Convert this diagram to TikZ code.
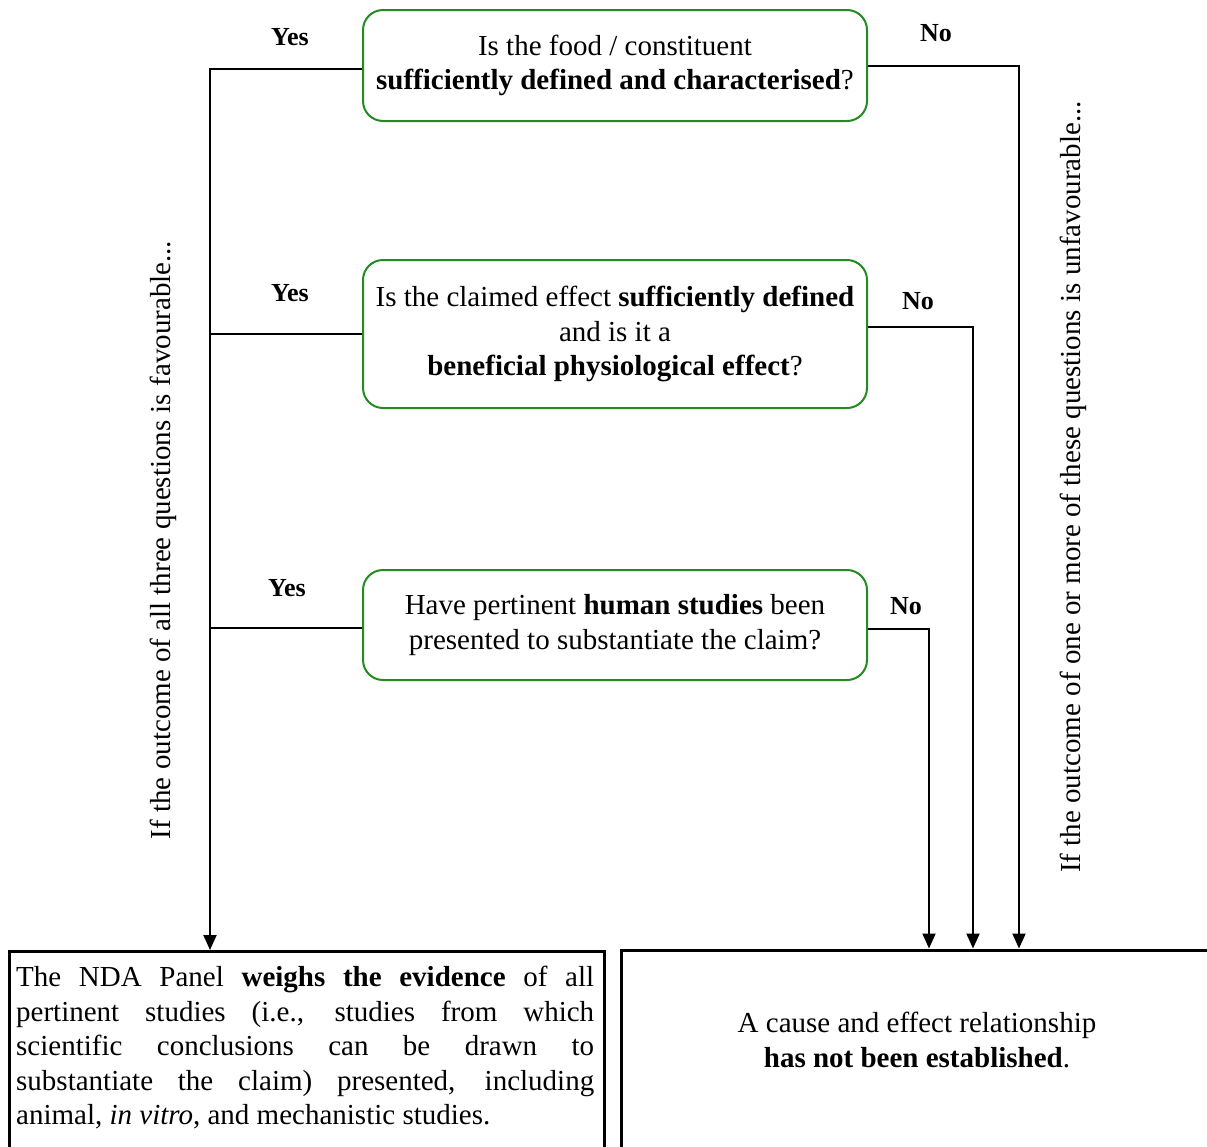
\documentclass[tikz,border=0pt]{standalone}
\usepackage{fontspec}
\setmainfont{Liberation Serif}
\usetikzlibrary{arrows.meta}
\definecolor{qgreen}{RGB}{34,139,34}
\begin{document}
\begin{tikzpicture}[x=1pt,y=-1pt,
  font=\fontsize{29}{34.5}\selectfont,
  qbox/.style={draw=qgreen, line width=2pt, rounded corners=20pt, minimum width=504pt, align=center, inner sep=0pt},
  endbox/.style={draw, line width=3pt, anchor=north west, inner sep=0pt},
  conn/.style={line width=2pt},
  arr/.style={conn, -{Triangle[length=15pt,width=13pt]}},
  lab/.style={font=\fontsize{26}{30}\selectfont\bfseries},
  side/.style={rotate=90}
]
\useasboundingbox (0,0) rectangle (1207,1146);

% question boxes
\node[qbox, minimum height=111pt] (q1) at (615,65.5)
  {Is the food / constituent\\\textbf{sufficiently defined and characterised}?};
\node[qbox, minimum height=148pt] (q2) at (615,334)
  {Is the claimed effect \textbf{sufficiently defined}\\and is it a\\\textbf{beneficial physiological effect}?};
\node[qbox, minimum height=110pt] (q3) at (615,625)
  {Have pertinent \textbf{human studies} been\\presented to substantiate the claim?};

% outcome boxes
\node[endbox, minimum width=595pt, minimum height=230pt] (yes) at (8,950) {};
\node[endbox, minimum width=600pt, minimum height=230pt] (no) at (620,948.5) {};

\node[anchor=north west, text width=578pt, align=justify, inner sep=0pt] (yestxt) at (16,966)
  {\tolerance=10000 The NDA Panel \textbf{weighs the evidence} of all\linebreak
   pertinent studies (i.e., studies from which\linebreak
   scientific conclusions can be drawn to\linebreak
   substantiate the claim) presented, including\linebreak
   animal, \textit{in vitro}, and mechanistic studies.};
\node[align=center] (notxt) at (917,1040)
  {A cause and effect relationship\\\textbf{has not been established}.};

% side texts
\node[side] (fav) at (163,540) {If the outcome of all three questions is favourable...};
\node[side] (unfav) at (1073,487) {If the outcome of one or more of these questions is unfavourable...};

% labels
\node[lab] (y1) at (290,37) {Yes};
\node[lab] (y2) at (290,293) {Yes};
\node[lab] (y3) at (287,588) {Yes};
\node[lab] (n1) at (936,33) {No};
\node[lab] (n2) at (918,301) {No};
\node[lab] (n3) at (906,606) {No};

% connectors
\coordinate (lx) at (210,0);
\coordinate (r1) at (1019,0);
\coordinate (r2) at (973,0);
\coordinate (r3) at (929,0);
\draw[arr] ([yshift=-3.5pt]q1.west) -| (yes.north -| lx);
\draw[conn] (q2.west) -- (q2.west -| lx);
\draw[conn] ([yshift=-3pt]q3.west) -- ([yshift=-3pt]q3.west -| lx);
\draw[arr] (q1.east) -| (no.north -| r1);
\draw[arr] ([yshift=7pt]q2.east) -| (no.north -| r2);
\draw[arr] ([yshift=-4pt]q3.east) -| (no.north -| r3);
\end{tikzpicture}
\end{document}
